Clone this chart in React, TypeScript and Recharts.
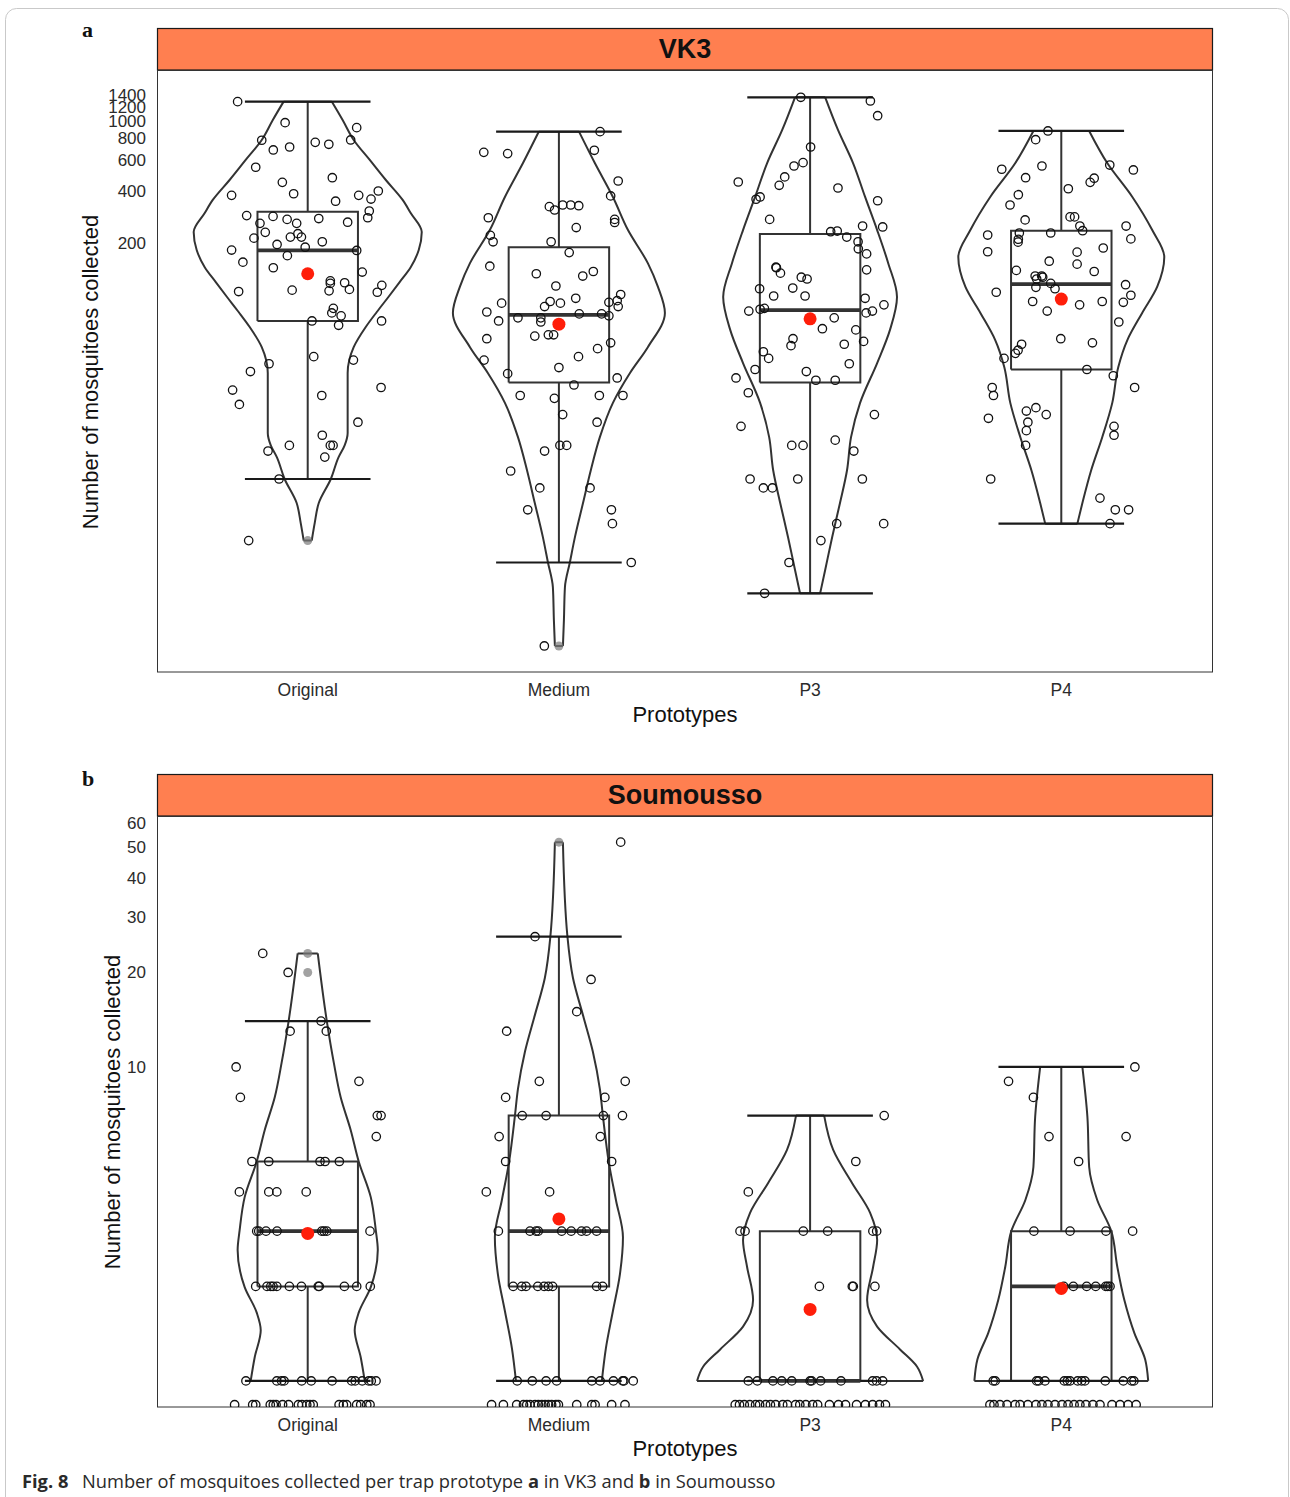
import React from 'react';
import { ComposedChart, XAxis, YAxis, Line, Scatter } from 'recharts';

type Pair = [number, number];

const FONT = '"Liberation Sans", Arial, Helvetica, sans-serif';

// ---------- shared ----------
const CATEGORIES = ['Original', 'Medium', 'P3', 'P4'];
const X_TICKS = [1, 2, 3, 4];

// ---------- panel a : VK3 ----------
const VK3_TICKS = [200, 400, 600, 800, 1000, 1200, 1400];
const VK3_DOMAIN: Pair = [0.71, 1956];
const VK3_Q1 = [72, 32, 32, 38];
const VK3_MEDIAN = [182, 78, 83, 117];
const VK3_Q3 = [303, 190, 226, 236];
const VK3_WHISKER_LOW = [9, 3, 2, 5];
const VK3_WHISKER_HIGH = [1290, 869, 1366, 877];
const VK3_MEAN = [134, 69, 74, 96];
const VK3_OUTLIERS = [[4], [1], [], []];

// violin outline: [count, half width in category units]
const VK3_VIOLIN_ORIGINAL: Pair[] = [[1290, 0.096], [1013, 0.139], [779, 0.183], [599, 0.247], [460, 0.311], [354, 0.378], [298, 0.41], [232, 0.454], [183, 0.442], [146, 0.41], [120, 0.366], [99, 0.322], [81, 0.275], [66.5, 0.231], [51, 0.183], [36.3, 0.159], [16.5, 0.159], [14, 0.147], [12, 0.123], [9, 0.092], [6.56, 0.044], [5.05, 0.028], [4, 0.016]];
const VK3_VIOLIN_MEDIUM: Pair[] = [[869, 0.08], [575, 0.143], [368, 0.215], [238, 0.275], [154, 0.354], [113, 0.394], [80, 0.422], [51, 0.354], [36.3, 0.283], [24.5, 0.215], [15.6, 0.163], [10.1, 0.127], [6.56, 0.096], [4.2, 0.064], [3.02, 0.044], [2.17, 0.024], [1.41, 0.02], [1, 0.016]];
const VK3_VIOLIN_P3: Pair[] = [[1366, 0.06], [889, 0.111], [575, 0.171], [368, 0.219], [238, 0.267], [154, 0.311], [98.7, 0.346], [64, 0.318], [41.4, 0.267], [24.5, 0.199], [15.6, 0.163], [10.1, 0.147], [6.56, 0.119], [4.2, 0.088], [2.72, 0.06], [2, 0.04]];
const VK3_VIOLIN_P4: Pair[] = [[877, 0.111], [575, 0.183], [368, 0.283], [238, 0.362], [167, 0.41], [113, 0.382], [80, 0.322], [56, 0.263], [39.3, 0.227], [24.5, 0.203], [15.6, 0.163], [10.1, 0.119], [6.56, 0.084], [5, 0.064]];

// jittered traps: [horizontal jitter in category units, count]
const VK3_POINTS_ORIGINAL: Pair[] = [[-0.279, 1290], [-0.09, 978], [0.195, 916], [-0.183, 776], [-0.137, 683], [-0.072, 710], [0.03, 755], [0.084, 736], [0.171, 779], [-0.207, 544], [0.098, 474], [-0.101, 446], [-0.303, 376], [-0.056, 384], [0.111, 348], [0.203, 376], [0.252, 358], [0.281, 398], [0.245, 306], [0.239, 280], [-0.243, 288], [-0.138, 285], [-0.082, 274], [-0.044, 260], [0.044, 277], [0.159, 264], [-0.19, 260], [-0.169, 231], [-0.214, 214], [-0.039, 227], [-0.025, 217], [-0.069, 217], [-0.122, 197], [-0.01, 190], [0.058, 204], [0.195, 182], [-0.303, 183], [-0.258, 156], [-0.081, 170], [-0.137, 145], [0.217, 137], [0.09, 122], [0.09, 118], [0.085, 107], [0.147, 119], [0.166, 109], [-0.062, 108], [-0.275, 106], [0.277, 105], [0.295, 115], [0.102, 85], [0.096, 80], [0.133, 77], [0.017, 72], [0.123, 68], [0.294, 72], [0.024, 45], [0.182, 43], [-0.154, 41], [-0.228, 37], [-0.299, 29], [-0.272, 24], [0.056, 27], [0.292, 30], [0.2, 19], [0.058, 16], [-0.073, 14], [0.09, 14], [0.101, 14], [-0.158, 13], [0.068, 12], [-0.114, 9], [-0.235, 4]];
const VK3_POINTS_MEDIUM: Pair[] = [[0.164, 869], [-0.299, 662], [-0.204, 651], [0.141, 680], [0.236, 454], [0.206, 373], [-0.038, 324], [-0.017, 310], [0.015, 331], [0.047, 331], [0.079, 328], [-0.281, 280], [0.222, 274], [0.222, 263], [0.069, 246], [-0.273, 222], [-0.262, 204], [-0.031, 204], [0.041, 177], [-0.275, 148], [-0.09, 134], [0.137, 138], [0.095, 130], [-0.012, 114], [0.246, 102], [0.199, 92], [0.232, 94], [0.236, 87], [0.067, 97], [0.006, 91], [-0.035, 93], [-0.057, 87], [-0.228, 91], [-0.287, 81], [-0.24, 72], [-0.163, 75], [-0.072, 75], [-0.072, 71], [0.081, 79], [0.17, 79], [0.199, 77], [-0.096, 59], [-0.042, 60], [-0.021, 60], [-0.287, 57], [0.206, 54], [0.154, 50], [0.078, 45], [-0.298, 43], [0.0, 39], [-0.204, 36], [0.232, 34], [0.06, 31], [-0.154, 27], [-0.018, 26], [0.161, 27], [0.255, 27], [0.015, 21], [0.152, 19], [0.004, 14], [0.031, 14], [-0.057, 13], [-0.192, 10], [-0.076, 8], [0.124, 8], [-0.124, 6], [0.209, 6], [0.213, 5], [0.288, 3], [-0.058, 1]];
const VK3_POINTS_P3: Pair[] = [[-0.037, 1366], [0.24, 1301], [0.269, 1072], [0.002, 710], [-0.064, 553], [-0.028, 578], [-0.101, 479], [-0.123, 429], [-0.286, 448], [0.111, 414], [-0.215, 357], [-0.199, 368], [0.269, 350], [-0.161, 274], [0.209, 251], [0.289, 248], [0.082, 233], [0.108, 235], [0.146, 217], [0.191, 204], [0.192, 186], [0.225, 174], [0.225, 141], [-0.136, 146], [-0.134, 145], [-0.118, 135], [-0.035, 128], [-0.012, 125], [-0.069, 111], [-0.201, 110], [-0.145, 100], [-0.02, 100], [0.219, 97], [0.294, 89], [-0.244, 82], [-0.199, 84], [-0.182, 85], [0.223, 80], [0.248, 82], [0.096, 75], [0.049, 65], [0.182, 64], [-0.068, 57], [-0.076, 52], [0.213, 55], [0.136, 53], [-0.186, 48], [-0.165, 44], [0.156, 41], [-0.219, 38], [-0.015, 37], [-0.295, 34], [0.023, 33], [0.1, 33], [-0.246, 28], [-0.275, 18], [0.256, 21], [-0.073, 14], [-0.028, 14], [0.1, 15], [0.174, 13], [-0.239, 9], [-0.049, 9], [0.208, 9], [-0.186, 8], [-0.15, 8], [0.106, 5], [0.293, 5], [0.043, 4], [-0.084, 3], [-0.181, 2]];
const VK3_POINTS_P4: Pair[] = [[-0.053, 877], [-0.102, 782], [-0.237, 530], [-0.077, 553], [0.193, 560], [0.287, 525], [-0.142, 474], [0.115, 446], [0.131, 471], [0.028, 410], [-0.171, 379], [-0.204, 331], [-0.144, 272], [0.035, 283], [0.053, 283], [0.074, 251], [0.085, 236], [0.258, 251], [0.277, 212], [-0.293, 223], [-0.293, 179], [-0.167, 229], [-0.171, 211], [-0.172, 203], [-0.042, 229], [0.063, 178], [0.167, 188], [-0.048, 158], [0.063, 152], [0.131, 138], [-0.179, 140], [-0.104, 130], [-0.078, 130], [-0.098, 125], [-0.074, 128], [-0.042, 118], [-0.025, 110], [-0.101, 112], [-0.259, 105], [0.256, 116], [0.277, 101], [0.247, 92], [-0.114, 93], [-0.056, 82], [0.073, 89], [0.163, 93], [0.229, 71], [-0.002, 57], [0.124, 54], [-0.158, 53], [-0.172, 49], [-0.183, 47], [-0.228, 44], [0.102, 38], [0.207, 35], [0.292, 30], [-0.275, 30], [-0.27, 27], [-0.29, 20], [-0.139, 22], [-0.101, 23], [-0.06, 21], [-0.133, 19], [-0.139, 17], [-0.142, 14], [0.21, 18], [0.21, 16], [-0.281, 9], [0.154, 7], [0.215, 6], [0.268, 6], [0.194, 5]];

// ---------- panel b : Soumousso ----------
const SOU_TICKS = [10, 20, 30, 40, 50, 60];
const SOU_DOMAIN: Pair = [0.826, 63];
const SOU_ZERO_FLOOR = 0.84; // zero counts are drawn on the lower edge of the log axis
const SOU_Q1 = [2, 2, 1, 1];
const SOU_MEDIAN = [3, 3, 1, 2];
const SOU_Q3 = [5, 7, 3, 3];
const SOU_WHISKER_LOW = [1, 1, 1, 1];
const SOU_WHISKER_HIGH = [14, 26, 7, 10];
const SOU_MEAN = [2.95, 3.28, 1.69, 1.97];
const SOU_OUTLIERS = [[23, 20], [52], [], []];

const SOU_VIOLIN_ORIGINAL: Pair[] = [[23, 0.04], [14, 0.076], [10.3, 0.104], [8.02, 0.131], [6.3, 0.171], [5, 0.203], [3.85, 0.251], [3.02, 0.271], [2.61, 0.279], [1.99, 0.251], [1.65, 0.203], [1.45, 0.187], [1.19, 0.211], [1, 0.227]];
const SOU_VIOLIN_MEDIUM: Pair[] = [[52, 0.016], [26, 0.034], [19.2, 0.056], [14.6, 0.096], [11.2, 0.135], [8.51, 0.163], [7, 0.175], [4.95, 0.199], [3.77, 0.227], [2.87, 0.255], [2.19, 0.243], [1.67, 0.215], [1.27, 0.187], [1, 0.171]];
const SOU_VIOLIN_P3: Pair[] = [[7, 0.056], [5.44, 0.092], [4.27, 0.167], [3.43, 0.239], [2.81, 0.267], [2.31, 0.251], [1.81, 0.227], [1.49, 0.267], [1.26, 0.358], [1.11, 0.426], [1, 0.45]];
const SOU_VIOLIN_P4: Pair[] = [[10, 0.084], [6.93, 0.104], [4.8, 0.111], [3.77, 0.143], [3, 0.199], [2.31, 0.223], [1.81, 0.251], [1.42, 0.291], [1.17, 0.334], [1, 0.346]];

const SOU_POINTS_ORIGINAL: Pair[] = [[-0.179, 23], [-0.078, 20], [0.053, 14], [-0.07, 13], [0.074, 13], [-0.285, 10], [-0.268, 8], [0.204, 9], [0.277, 7], [0.292, 7], [0.273, 6], [-0.222, 5], [-0.155, 5], [0.049, 5], [0.069, 5], [0.126, 5], [-0.272, 4], [-0.155, 4], [-0.123, 4], [-0.006, 4], [-0.203, 3], [-0.195, 3], [-0.166, 3], [-0.122, 3], [0.056, 3], [0.065, 3], [0.076, 3], [0.248, 3], [-0.207, 2], [-0.162, 2], [-0.147, 2], [-0.138, 2], [-0.123, 2], [-0.073, 2], [-0.025, 2], [0.042, 2], [0.046, 2], [0.146, 2], [0.195, 2], [0.249, 2], [-0.246, 1], [-0.123, 1], [-0.104, 1], [-0.094, 1], [-0.024, 1], [0.014, 1], [0.097, 1], [0.175, 1], [0.189, 1], [0.217, 1], [0.243, 1], [0.253, 1], [0.272, 1], [-0.291, 0], [-0.219, 0], [-0.207, 0], [-0.149, 0], [-0.137, 0], [-0.126, 0], [-0.1, 0], [-0.076, 0], [-0.037, 0], [-0.023, 0], [-0.004, 0], [0.009, 0], [0.022, 0], [0.125, 0], [0.142, 0], [0.155, 0], [0.195, 0], [0.211, 0], [0.235, 0], [0.248, 0]];
const SOU_POINTS_MEDIUM: Pair[] = [[0.246, 52], [-0.095, 26], [0.128, 19], [0.071, 15], [-0.208, 13], [-0.078, 9], [0.264, 9], [-0.212, 8], [0.183, 8], [-0.146, 7], [-0.051, 7], [0.177, 7], [0.253, 7], [-0.238, 6], [0.165, 6], [-0.212, 5], [0.21, 5], [-0.289, 4], [-0.037, 4], [-0.241, 3], [-0.115, 3], [-0.091, 3], [-0.082, 3], [0.011, 3], [0.049, 3], [0.09, 3], [0.11, 3], [0.15, 3], [-0.182, 2], [-0.148, 2], [-0.131, 2], [-0.084, 2], [-0.059, 2], [-0.042, 2], [-0.025, 2], [0.15, 2], [0.174, 2], [-0.166, 1], [-0.106, 1], [-0.051, 1], [-0.009, 1], [0.131, 1], [0.164, 1], [0.217, 1], [0.254, 1], [0.259, 1], [0.296, 1], [-0.268, 0], [-0.221, 0], [-0.168, 0], [-0.141, 0], [-0.128, 0], [-0.115, 0], [-0.095, 0], [-0.082, 0], [-0.068, 0], [-0.055, 0], [-0.042, 0], [-0.029, 0], [-0.012, 0], [-0.002, 0], [0.071, 0], [0.131, 0], [0.144, 0], [0.21, 0], [0.263, 0]];
const SOU_POINTS_P3: Pair[] = [[0.295, 7], [0.182, 5], [-0.246, 4], [-0.279, 3], [-0.259, 3], [-0.027, 3], [0.07, 3], [0.25, 3], [0.265, 3], [0.037, 2], [0.168, 2], [0.172, 2], [0.258, 2], [-0.246, 1], [-0.21, 1], [-0.148, 1], [-0.113, 1], [-0.073, 1], [0.0, 1], [0.006, 1], [0.042, 1], [0.123, 1], [0.249, 1], [0.265, 1], [0.289, 1], [-0.298, 0], [-0.281, 0], [-0.262, 0], [-0.24, 0], [-0.217, 0], [-0.201, 0], [-0.177, 0], [-0.158, 0], [-0.137, 0], [-0.109, 0], [-0.09, 0], [-0.058, 0], [-0.041, 0], [-0.017, 0], [0.01, 0], [0.03, 0], [0.077, 0], [0.113, 0], [0.141, 0], [0.185, 0], [0.22, 0], [0.249, 0], [0.276, 0], [0.3, 0]];
const SOU_POINTS_P4: Pair[] = [[0.293, 10], [-0.21, 9], [-0.111, 8], [-0.049, 6], [0.258, 6], [0.069, 5], [-0.109, 3], [0.035, 3], [0.178, 3], [0.284, 3], [0.01, 2], [0.048, 2], [0.101, 2], [0.137, 2], [0.177, 2], [0.185, 2], [0.194, 2], [-0.271, 1], [-0.263, 1], [-0.098, 1], [-0.09, 1], [-0.065, 1], [0.012, 1], [0.024, 1], [0.035, 1], [0.065, 1], [0.081, 1], [0.094, 1], [0.175, 1], [0.247, 1], [0.28, 1], [0.289, 1], [-0.284, 0], [-0.268, 0], [-0.244, 0], [-0.216, 0], [-0.184, 0], [-0.164, 0], [-0.133, 0], [-0.101, 0], [-0.077, 0], [-0.053, 0], [-0.025, 0], [0.003, 0], [0.027, 0], [0.051, 0], [0.074, 0], [0.098, 0], [0.126, 0], [0.154, 0], [0.202, 0], [0.234, 0], [0.266, 0], [0.298, 0]];

// ---------- drawing helpers ----------
const BOX_HALF = 0.2;
const CAP_HALF = 0.25;
const LINE_COLOR = '#333333';

type Pt = { x: number; y: number | null };

interface PanelSpec {
  domain: Pair;
  ticks: number[];
  zeroFloor: number;
  q1: number[];
  median: number[];
  q3: number[];
  low: number[];
  high: number[];
  mean: number[];
  outliers: number[][];
  violins: Pair[][];
  points: Pair[][];
}

function segmentsToPoints(segs: Pair[][]): Pt[] {
  const out: Pt[] = [];
  segs.forEach((s) => {
    s.forEach(([x, y]) => out.push({ x, y }));
    out.push({ x: s[s.length - 1][0], y: null });
  });
  return out;
}

const XTick = (props: any) => {
  const { x, y, payload } = props;
  return (
    <text x={x} y={y + 24} textAnchor="middle" fontSize={17.5} fill="#2b2b2b" fontFamily={FONT}>
      {CATEGORIES[payload.value - 1]}
    </text>
  );
};

const YTick = (props: any) => {
  const { x, y, payload } = props;
  return (
    <text x={x - 11} y={y} dy="0.35em" textAnchor="end" fontSize={17} fill="#2b2b2b" fontFamily={FONT}>
      {payload.value}
    </text>
  );
};

const HollowDot = (props: any) => (
  <circle cx={props.cx} cy={props.cy} r={4.2} fill="none" stroke="#111" strokeWidth={1.3} />
);
const MeanDot = (props: any) => <circle cx={props.cx} cy={props.cy} r={6.5} fill="#FF1E0A" />;
const OutlierDot = (props: any) => <circle cx={props.cx} cy={props.cy} r={4.5} fill="#7a7a7a" fillOpacity={0.7} />;

function Panel({ spec, marginTop, marginBottom }: { spec: PanelSpec; marginTop: number; marginBottom: number }) {
  const lineProps = {
    dot: false as const,
    activeDot: false as const,
    isAnimationActive: false,
    legendType: 'none' as const,
    dataKey: 'y',
    connectNulls: false,
  };

  const sides: { key: string; data: Pt[] }[] = [];
  const closures: Pair[][] = [];
  spec.violins.forEach((prof, i) => {
    const c = i + 1;
    sides.push({ key: `vl${i}`, data: prof.map(([v, w]) => ({ x: c - w, y: v })) });
    sides.push({ key: `vr${i}`, data: prof.map(([v, w]) => ({ x: c + w, y: v })) });
    const [vTop, wTop] = prof[0];
    const [vBot, wBot] = prof[prof.length - 1];
    closures.push([[c - wTop, vTop], [c + wTop, vTop]]);
    closures.push([[c - wBot, vBot], [c + wBot, vBot]]);
  });

  const boxSegs: Pair[][] = [];
  const capSegs: Pair[][] = [];
  const medSegs: Pair[][] = [];
  X_TICKS.forEach((c, i) => {
    boxSegs.push([[c - BOX_HALF, spec.q1[i]], [c + BOX_HALF, spec.q1[i]], [c + BOX_HALF, spec.q3[i]], [c - BOX_HALF, spec.q3[i]], [c - BOX_HALF, spec.q1[i]]]);
    boxSegs.push([[c, spec.q3[i]], [c, spec.high[i]]]);
    if (spec.low[i] < spec.q1[i]) boxSegs.push([[c, spec.q1[i]], [c, spec.low[i]]]);
    capSegs.push([[c - CAP_HALF, spec.high[i]], [c + CAP_HALF, spec.high[i]]]);
    capSegs.push([[c - CAP_HALF, spec.low[i]], [c + CAP_HALF, spec.low[i]]]);
    medSegs.push([[c - BOX_HALF, spec.median[i]], [c + BOX_HALF, spec.median[i]]]);
  });

  const points: Pt[] = [];
  spec.points.forEach((arr, i) =>
    arr.forEach(([dx, v]) => points.push({ x: i + 1 + dx, y: v === 0 ? spec.zeroFloor : v }))
  );
  const outliers: Pt[] = [];
  spec.outliers.forEach((arr, i) => arr.forEach((v) => outliers.push({ x: i + 1, y: v })));
  const means: Pt[] = spec.mean.map((m, i) => ({ x: i + 1, y: m }));

  return (
    <ComposedChart width={1290} height={740} margin={{ top: marginTop, right: 78, bottom: marginBottom, left: 0 }}>
      <XAxis
        dataKey="x"
        type="number"
        domain={[0.4, 4.6]}
        allowDataOverflow
        ticks={X_TICKS}
        interval={0}
        tick={<XTick />}
        tickLine={false}
        axisLine={false}
        tickSize={0}
        tickMargin={0}
        height={60}
      />
      <YAxis
        dataKey="y"
        type="number"
        scale="log"
        domain={spec.domain}
        allowDataOverflow
        ticks={spec.ticks}
        interval={0}
        tick={<YTick />}
        tickLine={false}
        axisLine={false}
        tickSize={0}
        tickMargin={0}
        width={157}
      />
      {sides.map((s) => (
        <Line key={s.key} {...lineProps} data={s.data} type="monotoneY" stroke={LINE_COLOR} strokeWidth={2} />
      ))}
      <Line {...lineProps} data={segmentsToPoints(closures)} type="linear" stroke={LINE_COLOR} strokeWidth={2} />
      <Line {...lineProps} data={segmentsToPoints(boxSegs)} type="linear" stroke={LINE_COLOR} strokeWidth={2} />
      <Line {...lineProps} data={segmentsToPoints(capSegs)} type="linear" stroke="#1a1a1a" strokeWidth={2.2} />
      <Line {...lineProps} data={segmentsToPoints(medSegs)} type="linear" stroke={LINE_COLOR} strokeWidth={3.8} />
      <Scatter data={outliers} dataKey="y" isAnimationActive={false} shape={<OutlierDot />} legendType="none" />
      <Scatter data={points} dataKey="y" isAnimationActive={false} shape={<HollowDot />} legendType="none" />
      <Scatter data={means} dataKey="y" isAnimationActive={false} shape={<MeanDot />} legendType="none" />
    </ComposedChart>
  );
}

const VK3_SPEC: PanelSpec = {
  domain: VK3_DOMAIN,
  ticks: VK3_TICKS,
  zeroFloor: VK3_DOMAIN[0],
  q1: VK3_Q1,
  median: VK3_MEDIAN,
  q3: VK3_Q3,
  low: VK3_WHISKER_LOW,
  high: VK3_WHISKER_HIGH,
  mean: VK3_MEAN,
  outliers: VK3_OUTLIERS,
  violins: [VK3_VIOLIN_ORIGINAL, VK3_VIOLIN_MEDIUM, VK3_VIOLIN_P3, VK3_VIOLIN_P4],
  points: [VK3_POINTS_ORIGINAL, VK3_POINTS_MEDIUM, VK3_POINTS_P3, VK3_POINTS_P4],
};

const SOU_SPEC: PanelSpec = {
  domain: SOU_DOMAIN,
  ticks: SOU_TICKS,
  zeroFloor: SOU_ZERO_FLOOR,
  q1: SOU_Q1,
  median: SOU_MEDIAN,
  q3: SOU_Q3,
  low: SOU_WHISKER_LOW,
  high: SOU_WHISKER_HIGH,
  mean: SOU_MEAN,
  outliers: SOU_OUTLIERS,
  violins: [SOU_VIOLIN_ORIGINAL, SOU_VIOLIN_MEDIUM, SOU_VIOLIN_P3, SOU_VIOLIN_P4],
  points: [SOU_POINTS_ORIGINAL, SOU_POINTS_MEDIUM, SOU_POINTS_P3, SOU_POINTS_P4],
};

const STRIP_FILL = '#FF7F50';
const CAPTION_FONT = '"Open Sans", "Noto Sans", sans-serif';

export default function App() {
  return (
    <div style={{ position: 'absolute', left: 0, top: 0, width: 1290, height: 1497, background: '#fff', overflow: 'hidden' }}>
      <svg width={1290} height={1497} style={{ position: 'absolute', left: 0, top: 0 }}>
        <rect x={5.5} y={8.5} width={1283} height={1520} rx={11} fill="none" stroke="#c9c9c9" strokeWidth={1} />
        {/* panel a */}
        <text x={82} y={37} fontFamily='"Liberation Serif", "DejaVu Serif", serif' fontWeight="bold" fontSize={22} fill="#111">a</text>
        <rect x={157.5} y={28.5} width={1055} height={41.5} fill={STRIP_FILL} stroke="#1a1a1a" strokeWidth={1.2} />
        <text x={685} y={57.5} textAnchor="middle" fontFamily={FONT} fontWeight="bold" fontSize={27} fill="#111">VK3</text>
        <rect x={157.5} y={70.5} width={1055} height={601.5} fill="none" stroke="#333" strokeWidth={1} />
        <text transform="translate(98,372) rotate(-90)" textAnchor="middle" fontFamily={FONT} fontSize={22} fill="#111">Number of mosquitoes collected</text>
        <text x={685} y={722} textAnchor="middle" fontFamily={FONT} fontSize={22} fill="#111">Prototypes</text>
        {/* panel b */}
        <text x={82} y={786} fontFamily='"Liberation Serif", "DejaVu Serif", serif' fontWeight="bold" fontSize={22} fill="#111">b</text>
        <rect x={157.5} y={774.5} width={1055} height={41.5} fill={STRIP_FILL} stroke="#1a1a1a" strokeWidth={1.2} />
        <text x={685} y={804} textAnchor="middle" fontFamily={FONT} fontWeight="bold" fontSize={27} fill="#111">Soumousso</text>
        <rect x={157.5} y={816.5} width={1055} height={590.5} fill="none" stroke="#333" strokeWidth={1} />
        <text transform="translate(120,1112) rotate(-90)" textAnchor="middle" fontFamily={FONT} fontSize={22} fill="#111">Number of mosquitoes collected</text>
        <text x={685} y={1456} textAnchor="middle" fontFamily={FONT} fontSize={22} fill="#111">Prototypes</text>
        {/* caption */}
        <text x={22} y={1488} fontFamily={CAPTION_FONT} fontSize={18.3} fill="#2a2a2a" fontWeight="bold">Fig. 8</text>
        <text x={82} y={1488} fontFamily={CAPTION_FONT} fontSize={18.3} fill="#2a2a2a">
          <tspan>{'Number of mosquitoes collected per trap prototype '}</tspan>
          <tspan fontWeight="bold">a</tspan>
          <tspan>{' in VK3 and '}</tspan>
          <tspan fontWeight="bold">b</tspan>
          <tspan>{' in Soumousso'}</tspan>
        </text>
      </svg>
      <div style={{ position: 'absolute', left: 0, top: 0 }}>
        <Panel spec={VK3_SPEC} marginTop={70} marginBottom={8} />
      </div>
      <div style={{ position: 'absolute', left: 0, top: 740 }}>
        <Panel spec={SOU_SPEC} marginTop={76} marginBottom={13} />
      </div>
    </div>
  );
}
